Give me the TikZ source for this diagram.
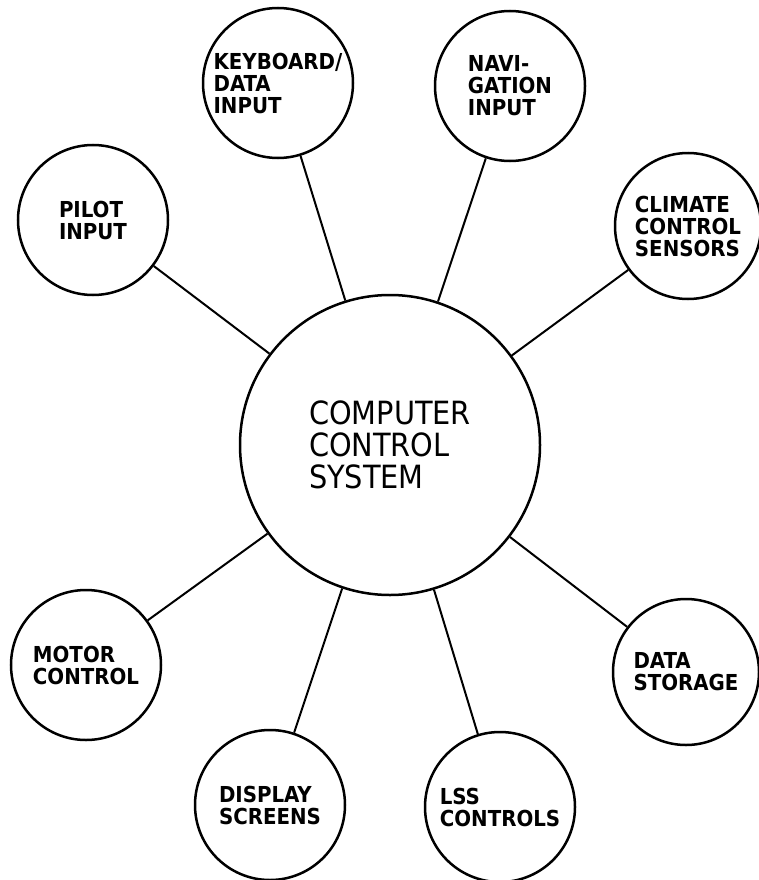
\documentclass[tikz,border=0pt]{standalone}
\usepackage{fontspec}
\setmainfont{DejaVu Sans Condensed}
\usepackage{tikz}

\begin{document}
\begin{tikzpicture}[x=1pt,y=1pt,
  every node/.style={font=\fontsize{22}{22}\selectfont\bfseries},
  unit/.style={draw,circle,line width=2.5pt,minimum size=150pt,inner sep=0pt,align=left},
  link/.style={line width=2pt}]
\useasboundingbox (0,0) rectangle (759,-880);
% centre
\node[unit,minimum size=300pt,font=\fontsize{32}{32}\selectfont] (ccs) at (390,-445) {COMPUTER\\CONTROL\\SYSTEM};
% inputs
\node[unit] (kbd) at (278,-83) {KEYBOARD/\\DATA\\INPUT};
\node[unit] (nav) at (510,-86) {NAVI-\\GATION\\INPUT};
\node[unit] (pilot) at (93,-220) {PILOT\\INPUT};
\node[unit,minimum size=146pt] (climate) at (688,-226) {CLIMATE\\CONTROL\\SENSORS};
% outputs
\node[unit] (motor) at (86,-665) {MOTOR\\CONTROL};
\node[unit] (display) at (270,-805) {DISPLAY\\SCREENS};
\node[unit] (lss) at (500,-807) {LSS\\CONTROLS};
\node[unit,minimum size=146pt] (storage) at (686,-672) {DATA\\STORAGE};
% links
\foreach \n in {kbd,nav,pilot,climate,motor,display,lss,storage}
  \draw[link] (ccs) -- (\n);
\end{tikzpicture}
\end{document}
